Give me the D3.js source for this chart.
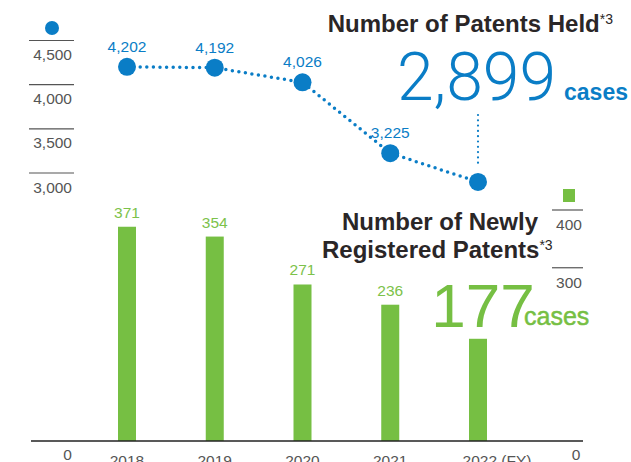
<!DOCTYPE html>
<html lang="en">
  <head>
    <meta charset="UTF-8" />
    <title>Patents</title>
    <style>
      body { margin: 0; background: #fff; }
      text { font-family: "Liberation Sans", Arial, sans-serif; }
    </style>
  </head>
  <body>
    <svg id="chart-d3"></svg>
  </body>
</html>

<script src="https://cdnjs.cloudflare.com/ajax/libs/d3/7.0.1/d3.js"></script>

<script>
  // data
  const years = ["2018", "2019", "2020", "2021", "2022"];
  const yearLabels = ["2018", "2019", "2020", "2021", "2022 (FY)"];
  const patentsHeld = [4202, 4192, 4026, 3225, 2899];
  const newlyRegistered = [371, 354, 271, 236, 177];
  const heldTicks = [3000, 3500, 4000, 4500];
  const newTicks = [300, 400];

  const blue = "#0a7dc6",
    green = "#76bf43",
    greenText = "#7cc24a",
    grey = "#555",
    dark = "#2a2627";

  function getChart({ width = 631, height = 462 }) {
    let chart = d3.select("#chart-d3").attr("width", width).attr("height", height),
      x = d3.scalePoint().domain(years).range([127, 478]),
      yHeld = d3.scaleLinear().domain([3000, 4500]).range([173, 40.5]),
      yNew = d3.scaleLinear().domain([0, 400]).range([441, 210]);

    const last = years.length - 1;

    // 左軸 (保有件数)
    const left = chart.append("g");
    heldTicks.forEach((t) => {
      left.append("line")
        .attr("x1", 29).attr("x2", 74)
        .attr("y1", yHeld(t)).attr("y2", yHeld(t))
        .attr("stroke", grey).attr("stroke-width", 1.2);
      left.append("text")
        .attr("x", 72).attr("y", yHeld(t) + 19.5)
        .attr("text-anchor", "end")
        .attr("font-size", 15.5).attr("fill", grey)
        .text(d3.format(",")(t));
    });
    left.append("circle").attr("cx", 52).attr("cy", 28).attr("r", 7).attr("fill", blue);

    // 右軸 (新規登録件数)
    const right = chart.append("g");
    newTicks.forEach((t) => {
      right.append("line")
        .attr("x1", 552).attr("x2", 583)
        .attr("y1", yNew(t)).attr("y2", yNew(t))
        .attr("stroke", grey).attr("stroke-width", 1.2);
      right.append("text")
        .attr("x", 569).attr("y", yNew(t) + 20)
        .attr("text-anchor", "middle")
        .attr("font-size", 15.5).attr("fill", grey)
        .text(t);
    });
    right.append("rect").attr("x", 563).attr("y", 189).attr("width", 12).attr("height", 13).attr("fill", green);

    // 0 labels
    chart.append("text").attr("x", 67.5).attr("y", 460).attr("text-anchor", "middle")
      .attr("font-size", 15.5).attr("fill", grey).text("0");
    chart.append("text").attr("x", 576).attr("y", 460).attr("text-anchor", "middle")
      .attr("font-size", 15.5).attr("fill", grey).text("0");

    // 長條圖
    chart.append("g")
      .selectAll("rect")
      .data(newlyRegistered)
      .join("rect")
      .attr("fill", green)
      .attr("x", (d, i) => x(years[i]) - 9)
      .attr("y", (d) => yNew(d))
      .attr("width", 18)
      .attr("height", (d) => yNew(0) - yNew(d));

    // 最後一筆用大字顯示, 不畫小標籤.
    chart.append("g")
      .selectAll("text")
      .data(newlyRegistered.slice(0, last))
      .join("text")
      .attr("x", (d, i) => x(years[i]))
      .attr("y", (d) => yNew(d) - 9)
      .attr("text-anchor", "middle")
      .attr("font-size", 15.5)
      .attr("fill", greenText)
      .text((d) => d);

    // baseline
    chart.append("line")
      .attr("x1", 31).attr("x2", 583)
      .attr("y1", 441).attr("y2", 441)
      .attr("stroke", "#222").attr("stroke-width", 1.3);

    // x 軸 labels
    chart.append("g")
      .selectAll("text")
      .data(years)
      .join("text")
      .attr("x", (d, i) => x(d) + (i === last ? 19 : 0))
      .attr("y", 466)
      .attr("text-anchor", "middle")
      .attr("font-size", 15.5)
      .attr("fill", grey)
      .text((d, i) => yearLabels[i]);

    // 折線
    const line = d3.line()
      .x((d, i) => x(years[i]))
      .y((d) => yHeld(d));
    chart.append("path")
      .datum(patentsHeld)
      .attr("d", line)
      .attr("fill", "none")
      .attr("stroke", blue)
      .attr("stroke-width", 3.5)
      .attr("stroke-linecap", "round")
      .attr("stroke-dasharray", "0 6.6");

    chart.append("g")
      .selectAll("circle")
      .data(patentsHeld)
      .join("circle")
      .attr("cx", (d, i) => x(years[i]))
      .attr("cy", (d) => yHeld(d))
      .attr("r", 9)
      .attr("fill", blue);

    chart.append("g")
      .selectAll("text")
      .data(patentsHeld.slice(0, last))
      .join("text")
      .attr("x", (d, i) => x(years[i]))
      .attr("y", (d) => yHeld(d) - 15)
      .attr("text-anchor", "middle")
      .attr("font-size", 15.5)
      .attr("fill", blue)
      .text((d) => d3.format(",")(d));

    // callout 2022 held
    chart.append("line")
      .attr("x1", x(years[last])).attr("x2", x(years[last]))
      .attr("y1", 115).attr("y2", yHeld(patentsHeld[last]) - 17)
      .attr("stroke", blue).attr("stroke-width", 2.2)
      .attr("stroke-linecap", "round")
      .attr("stroke-dasharray", "0 5.3");

    // titles
    const t1 = chart.append("text")
      .attr("x", 613).attr("y", 32)
      .attr("text-anchor", "end")
      .attr("font-weight", "bold")
      .attr("font-size", 24)
      .attr("fill", dark);
    t1.append("tspan").text("Number of Patents Held");
    t1.append("tspan").attr("font-size", 14).attr("font-weight", "normal").attr("dy", -8).text("*3");

    const big1 = chart.append("text")
      .attr("x", 628).attr("y", 100)
      .attr("text-anchor", "end")
      .attr("fill", blue);
    big1.append("tspan")
      .attr("font-family", "Roboto, sans-serif")
      .attr("font-weight", 300)
      .attr("font-size", 66)
      .text(d3.format(",")(patentsHeld[last]));
    big1.append("tspan")
      .attr("dx", 8)
      .attr("font-weight", "bold")
      .attr("font-size", 23)
      .text("cases");

    chart.append("text")
      .attr("x", 538).attr("y", 230)
      .attr("text-anchor", "end")
      .attr("font-weight", "bold")
      .attr("font-size", 24)
      .attr("fill", dark)
      .text("Number of Newly");
    const t3 = chart.append("text")
      .attr("x", 322).attr("y", 258)
      .attr("font-weight", "bold")
      .attr("font-size", 24)
      .attr("fill", dark);
    t3.append("tspan").text("Registered Patents");
    t3.append("tspan").attr("font-size", 14).attr("font-weight", "normal").attr("dy", -8).text("*3");

    chart.append("text")
      .attr("x", 483).attr("y", 327)
      .attr("text-anchor", "middle")
      .attr("font-family", "Roboto, sans-serif")
      .attr("font-weight", 300)
      .attr("font-size", 62)
      .attr("fill", green)
      .text(newlyRegistered[last]);
    chart.append("text")
      .attr("x", 524).attr("y", 325)
      .attr("font-size", 25)
      .attr("fill", green)
      .attr("stroke", green)
      .attr("stroke-width", 0.5)
      .text("cases");
  }

  getChart({});
</script>
